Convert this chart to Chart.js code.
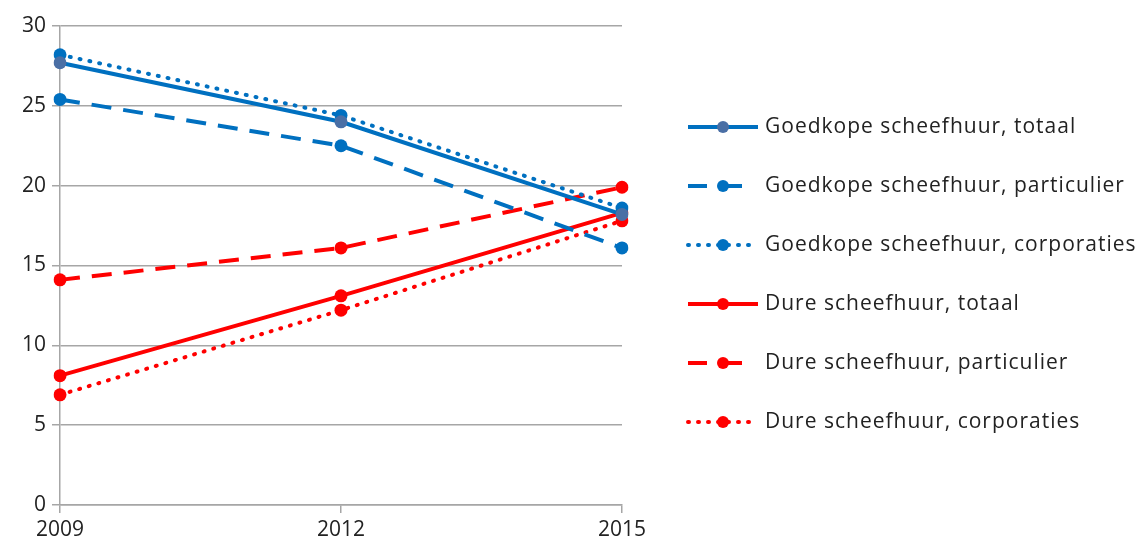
<!DOCTYPE html>
<html>
<head>
<meta charset="utf-8">
<script src="https://cdn.jsdelivr.net/npm/chart.js@4"></script>
<style>
  html, body { margin: 0; padding: 0; background: #fff; }
  #wrap { width: 1139px; height: 546px; }
</style>
</head>
<body>
<div id="wrap"><canvas id="grafico"></canvas></div>
<script>
// Jaren (x-as)
const jaren = ['2009', '2012', '2015'];

// Goedkope scheefhuur (%)
const goedkopeTotaal = [27.7, 24.0, 18.2];
const goedkopeParticulier = [25.4, 22.5, 16.1];
const goedkopeCorporaties = [28.2, 24.4, 18.6];

// Dure scheefhuur (%)
const dureTotaal = [8.1, 13.1, 18.3];
const dureParticulier = [14.1, 16.1, 19.9];
const dureCorporaties = [6.9, 12.2, 17.8];

const BLAUW = '#0070C0';
const ROOD = '#FF0000';
const FONT = "'Open Sans', sans-serif";

function serie(label, data, kleur, dash, puntKleur) {
    return {
        label: label,
        data: data,
        borderColor: kleur,
        backgroundColor: puntKleur || kleur,
        pointBackgroundColor: puntKleur || kleur,
        pointBorderColor: puntKleur || kleur,
        borderWidth: 4,
        borderDash: dash,
        borderCapStyle: dash.length && dash[0] < 4 ? 'round' : 'butt',
        pointRadius: 6.5,
        pointBorderWidth: 0,
        tension: 0,
        fill: false
    };
}

const datasets = [
    serie('Goedkope scheefhuur, totaal', goedkopeTotaal, BLAUW, [], '#4A6FA5'),
    serie('Goedkope scheefhuur, particulier', goedkopeParticulier, BLAUW, [20, 12]),
    serie('Goedkope scheefhuur, corporaties', goedkopeCorporaties, BLAUW, [1, 9]),
    serie('Dure scheefhuur, totaal', dureTotaal, ROOD, []),
    serie('Dure scheefhuur, particulier', dureParticulier, ROOD, [20, 12]),
    serie('Dure scheefhuur, corporaties', dureCorporaties, ROOD, [1, 9])
];

// Legenda rechts van de grafiek, lijn + punt zoals in het origineel
const legendaPlugin = {
    id: 'legenda',
    afterDraw(chart) {
        const ctx = chart.ctx;
        const x0 = chart.chartArea.right + 66;
        const y0 = 127;
        const stap = 59;
        chart.data.datasets.forEach((ds, i) => {
            const y = y0 + i * stap;
            ctx.save();
            ctx.strokeStyle = ds.borderColor;
            ctx.lineWidth = ds.borderWidth;
            ctx.lineCap = ds.borderCapStyle;
            ctx.setLineDash(ds.borderDash);
            ctx.beginPath();
            if (ds.borderDash.length && ds.borderDash[0] > 4) {
                ctx.setLineDash([]);
                ctx.moveTo(x0, y); ctx.lineTo(x0 + 19, y);
                ctx.moveTo(x0 + 35, y); ctx.lineTo(x0 + 54, y);
            } else {
                ctx.moveTo(x0, y); ctx.lineTo(x0 + 70, y);
            }
            ctx.stroke();
            ctx.setLineDash([]);
            ctx.fillStyle = ds.pointBackgroundColor;
            ctx.beginPath();
            ctx.arc(x0 + 35, y, 6, 0, Math.PI * 2);
            ctx.fill();
            ctx.fillStyle = '#222';
            ctx.font = '21px ' + FONT;
            ctx.letterSpacing = '1px';
            ctx.textBaseline = 'middle';
            ctx.textAlign = 'left';
            ctx.fillText(ds.label, x0 + 77, y);
            ctx.restore();
        });
    }
};

window.onload = function() {
    const ctx = document.getElementById('grafico').getContext('2d');
    new Chart(ctx, {
        type: 'line',
        data: { labels: jaren, datasets: datasets },
        options: {
            responsive: true,
            maintainAspectRatio: false,
            animation: false,
            layout: { padding: { top: 26, right: 517, left: 0, bottom: 0 } },
            plugins: {
                legend: { display: false },
                tooltip: { enabled: false }
            },
            scales: {
                x: {
                    offset: false,
                    grid: {
                        display: true,
                        drawOnChartArea: false,
                        drawTicks: true,
                        tickLength: 8,
                        color: '#A6A6A6',
                        lineWidth: 1.5
                    },
                    border: { color: '#A6A6A6', width: 1.5 },
                    ticks: {
                        color: '#222',
                        font: { family: FONT, size: 21 },
                        padding: 4,
                        maxRotation: 0
                    },
                    afterFit(axis) { axis.height = 41; }
                },
                y: {
                    min: 0,
                    max: 30,
                    ticks: {
                        stepSize: 5,
                        color: '#222',
                        font: { family: FONT, size: 21 },
                        padding: 6
                    },
                    grid: {
                        color: '#A6A6A6',
                        lineWidth: 1.5,
                        tickLength: 8
                    },
                    border: { color: '#A6A6A6', width: 1.5 },
                    afterFit(axis) { axis.width = 60; }
                }
            }
        },
        plugins: [legendaPlugin]
    });
};
</script>
</body>
</html>
